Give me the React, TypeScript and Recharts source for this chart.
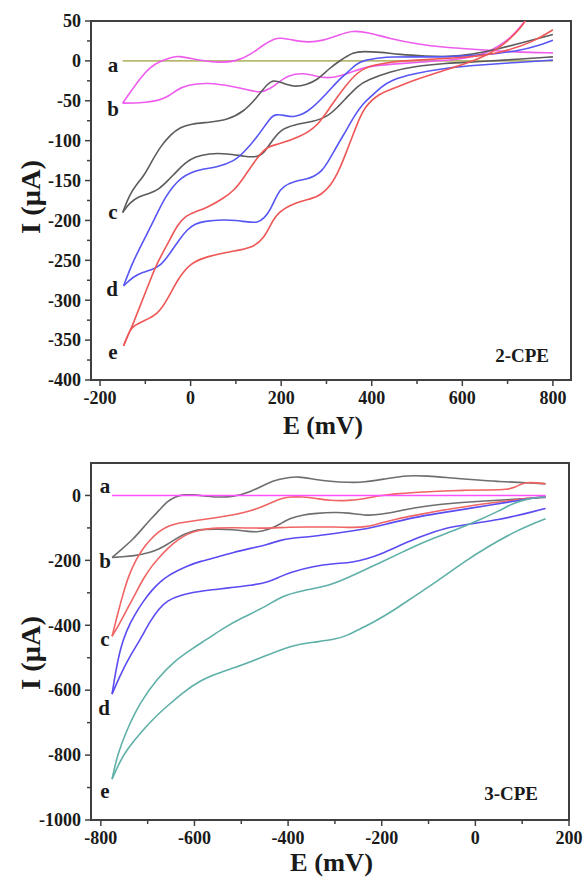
import { LineChart, Line, XAxis, YAxis, ReferenceArea } from "recharts";

// ---- 2-CPE (top panel), E in mV, I in μA ----
const cpe2A = [[-150, 0], [800, 0]];
const cpe2BUp = [
  [-150, -53], [-128, -35], [-110, -21], [-90, -8], [-66, 0], [-40, 5], [-25, 6], [0, 3], [30, 0],
  [60, -2], [100, -1], [133, 8], [160, 20], [185, 28], [200, 29], [225, 26], [260, 23], [290, 25],
  [330, 33], [358, 38], [390, 36], [440, 28], [500, 21], [560, 17], [640, 14], [720, 11], [800, 10],
];
const cpe2BLow = [
  [-150, -53], [-126, -53], [-100, -52], [-73, -50], [-50, -45], [-30, -36], [-7, -30], [37, -27],
  [95, -32], [130, -37], [155, -40], [175, -35], [192, -28], [214, -18], [250, -15], [275, -19],
  [302, -22], [330, -19], [360, -13], [390, -7], [442, -4], [520, -1], [600, 2], [650, 9], [680, 18],
  [707, 29], [729, 43], [745, 55], [760, 72],
];
const cpe2CUp = [
  [-150, -190], [-135, -168], [-120, -155], [-104, -145], [-85, -125], [-66, -107], [-44, -92],
  [-22, -83], [0, -79], [40, -77], [81, -74], [117, -64], [148, -45], [170, -28], [184, -24],
  [200, -27], [228, -33], [255, -30], [280, -24], [305, -10], [331, 1], [360, 11], [380, 12],
  [420, 11], [460, 8], [520, 6], [570, 5], [620, 8], [680, 15], [740, 24], [800, 33],
];
const cpe2CLow = [
  [-150, -190], [-135, -178], [-115, -170], [-90, -166], [-70, -161], [-50, -150], [-30, -138],
  [-10, -127], [10, -120], [40, -116], [81, -116], [120, -120], [150, -121], [165, -113],
  [180, -100], [199, -86], [228, -80], [272, -76], [302, -70], [325, -58], [346, -45], [370, -31],
  [390, -24], [442, -13], [493, -7], [560, -3], [641, -1], [720, 2], [800, 5],
];
const cpe2DUp = [
  [-148, -282], [-130, -255], [-110, -232], [-90, -210], [-73, -190], [-55, -170], [-38, -157],
  [-22, -147], [0, -140], [22, -136], [60, -133], [95, -126], [117, -115], [148, -95], [177, -70],
  [188, -67], [205, -68], [228, -71], [250, -66], [265, -61], [302, -40], [330, -22], [346, -15],
  [365, -4], [383, 1], [420, 4], [442, 5], [500, 5], [570, 5], [640, 7], [722, 12], [773, 20], [800, 26],
];
const cpe2DLow = [
  [-148, -282], [-126, -270], [-105, -265], [-88, -262], [-66, -257], [-44, -240], [-25, -224],
  [-7, -211], [10, -204], [29, -201], [73, -199], [100, -200], [126, -202], [148, -203], [163, -197],
  [177, -186], [192, -166], [205, -157], [228, -151], [258, -148], [272, -145], [290, -138],
  [302, -128], [320, -110], [331, -99], [346, -85], [360, -70], [383, -52], [398, -45], [420, -33],
  [442, -24], [493, -16], [560, -9], [641, -5], [720, -2], [800, 1],
];
const cpe2EUp = [
  [-148, -357], [-135, -340], [-126, -328], [-110, -305], [-90, -276], [-73, -252], [-51, -230],
  [-29, -205], [-10, -194], [10, -189], [37, -184], [73, -172], [95, -163], [117, -147], [148, -120],
  [170, -107], [192, -105], [243, -95], [280, -82], [309, -57], [346, -28], [370, -14], [390, -7],
  [442, -1], [500, 1], [560, 3], [620, 5], [685, 10], [758, 24], [800, 39],
];
const cpe2ELow = [
  [-148, -357], [-135, -338], [-126, -332], [-104, -326], [-73, -318], [-51, -299], [-29, -274],
  [0, -253], [37, -245], [88, -239], [139, -234], [162, -222], [177, -205], [192, -190], [228, -178],
  [272, -172], [287, -168], [309, -157], [330, -135], [346, -111], [366, -82], [383, -57], [420, -40],
  [442, -36], [493, -24], [560, -12], [610, -3], [650, 6], [680, 16], [707, 28], [729, 42], [745, 54],
  [760, 72],
];

// ---- 3-CPE (bottom panel) ----
const cpe3A = [[-776, 0], [150, 0]];
const cpe3BUp = [
  [-776, -191], [-755, -165], [-731, -135], [-710, -100], [-694, -74], [-675, -45], [-658, -18],
  [-640, -3], [-624, 3], [-600, 2], [-588, 0], [-551, -6], [-517, -4], [-481, 10], [-444, 38],
  [-420, 50], [-395, 56], [-380, 58], [-345, 50], [-310, 43], [-270, 40], [-239, 40], [-190, 52],
  [-145, 62], [-100, 60], [-60, 55], [0, 48], [47, 43], [96, 40], [120, 38], [150, 36],
];
const cpe3BLow = [
  [-776, -191], [-755, -189], [-731, -187], [-694, -176], [-675, -165], [-658, -151], [-640, -134],
  [-624, -120], [-600, -108], [-588, -105], [-550, -104], [-517, -105], [-490, -110], [-466, -114],
  [-440, -105], [-417, -88], [-395, -70], [-370, -60], [-340, -55], [-300, -52], [-274, -53],
  [-231, -63], [-200, -58], [-167, -49], [-130, -38], [-96, -31], [-50, -24], [11, -18], [81, -12],
  [150, -6],
];
const cpe3CUp = [
  [-776, -434], [-765, -370], [-752, -300], [-740, -245], [-725, -198], [-710, -163], [-694, -135],
  [-675, -110], [-658, -95], [-640, -87], [-624, -83], [-590, -76], [-551, -68], [-517, -60],
  [-481, -49], [-444, -28], [-417, -10], [-395, -4], [-370, -4], [-340, -9], [-310, -16], [-270, -16],
  [-239, -11], [-203, 0], [-170, 5], [-132, 9], [-80, 13], [-26, 16], [30, 17], [68, 18], [85, 25],
  [100, 37], [111, 40], [130, 39], [150, 36],
];
const cpe3CLow = [
  [-776, -434], [-760, -395], [-744, -351], [-725, -300], [-709, -255], [-690, -215], [-673, -187],
  [-655, -160], [-637, -138], [-615, -118], [-588, -105], [-550, -100], [-517, -99], [-466, -101],
  [-430, -100], [-400, -98], [-346, -97], [-300, -97], [-260, -99], [-231, -97], [-203, -85],
  [-167, -72], [-132, -62], [-80, -48], [-26, -35], [30, -24], [81, -14], [118, -8], [150, -4],
];
const cpe3DUp = [
  [-776, -612], [-768, -540], [-758, -470], [-745, -415], [-728, -368], [-709, -325], [-690, -290],
  [-673, -265], [-655, -246], [-637, -232], [-615, -217], [-588, -203], [-550, -190], [-517, -175],
  [-480, -163], [-444, -151], [-417, -138], [-395, -132], [-346, -126], [-300, -117], [-239, -105],
  [-190, -88], [-132, -68], [-80, -55], [-26, -43], [30, -30], [81, -18], [118, -9], [150, -3],
];
const cpe3DLow = [
  [-776, -612], [-760, -558], [-740, -500], [-716, -445], [-694, -385], [-675, -348], [-658, -324],
  [-630, -306], [-588, -295], [-550, -289], [-517, -283], [-480, -277], [-444, -268], [-417, -250],
  [-395, -237], [-346, -218], [-300, -210], [-261, -206], [-230, -195], [-203, -181], [-167, -158],
  [-132, -135], [-96, -116], [-60, -99], [-20, -90], [11, -83], [50, -74], [81, -65], [118, -52],
  [150, -40],
];
const cpe3EUp = [
  [-776, -874], [-765, -800], [-744, -720], [-716, -637], [-680, -566], [-645, -512], [-603, -470],
  [-573, -443], [-540, -410], [-500, -378], [-444, -340], [-417, -312], [-370, -293], [-310, -278],
  [-260, -245], [-203, -207], [-150, -170], [-96, -135], [-40, -105], [11, -74], [50, -48], [81, -24],
  [110, -10], [150, -4],
];
const cpe3ELow = [
  [-776, -874], [-760, -822], [-744, -782], [-709, -720], [-680, -677], [-658, -649], [-624, -606],
  [-588, -570], [-551, -548], [-502, -525], [-444, -492], [-395, -463], [-346, -452], [-300, -444],
  [-274, -432], [-245, -410], [-218, -391], [-175, -355], [-132, -312], [-80, -263], [-26, -206],
  [30, -155], [81, -114], [118, -90], [150, -72],
];

// ticks
const cpe2XMajor = [-200, 0, 200, 400, 600, 800];
const cpe2XMinor = [-100, 100, 300, 500, 700];
const cpe2YMajor = [-400, -350, -300, -250, -200, -150, -100, -50, 0, 50];
const cpe2YMinor = [-375, -325, -275, -225, -175, -125, -75, -25, 25];
const cpe3XMajor = [-800, -600, -400, -200, 0, 200];
const cpe3XMinor = [-700, -500, -300, -100, 100];
const cpe3YMajor = [-1000, -800, -600, -400, -200, 0];
const cpe3YMinor = [-900, -700, -500, -300, -100];

const AXIS = "#404040";
const FONT = "'Liberation Serif', 'Times New Roman', serif";

const pts = (arr: number[][]) => arr.map(([e, i]) => ({ e, i }));

const cpe2Series = [
  { name: "a", data: cpe2A, color: "#b8b870" },
  { name: "bUp", data: cpe2BUp, color: "#ee5cee" },
  { name: "bLow", data: cpe2BLow, color: "#ee5cee" },
  { name: "cUp", data: cpe2CUp, color: "#5c5c5c" },
  { name: "cLow", data: cpe2CLow, color: "#5c5c5c" },
  { name: "dUp", data: cpe2DUp, color: "#5656f4" },
  { name: "dLow", data: cpe2DLow, color: "#5656f4" },
  { name: "eUp", data: cpe2EUp, color: "#ef5656" },
  { name: "eLow", data: cpe2ELow, color: "#ef5656" },
];
const cpe3Series = [
  { name: "bUp", data: cpe3BUp, color: "#6e6e6e" },
  { name: "bLow", data: cpe3BLow, color: "#6e6e6e" },
  { name: "cUp", data: cpe3CUp, color: "#f06464" },
  { name: "cLow", data: cpe3CLow, color: "#f06464" },
  { name: "dUp", data: cpe3DUp, color: "#5a4cf2" },
  { name: "dLow", data: cpe3DLow, color: "#5a4cf2" },
  { name: "eUp", data: cpe3EUp, color: "#5fb0a8" },
  { name: "eLow", data: cpe3ELow, color: "#5fb0a8" },
  { name: "a", data: cpe3A, color: "#ff50ff" },
];

function makeXTick(majors: number[]) {
  return (props: any) => {
    const { x, y, payload } = props;
    const major = majors.includes(payload.value);
    return (
      <g>
        <line x1={x} x2={x} y1={y} y2={y + (major ? 6 : 4)} stroke={AXIS} strokeWidth={1.5} />
        {major && (
          <text x={x} y={y + 24} textAnchor="middle" fontFamily={FONT} fontWeight="bold" fontSize={18} fill="#1a1a1a">
            {String(payload.value)}
          </text>
        )}
      </g>
    );
  };
}

function makeYTick(majors: number[]) {
  return (props: any) => {
    const { x, y, payload } = props;
    const major = majors.includes(payload.value);
    return (
      <g>
        <line x1={x} x2={x - (major ? 6 : 4)} y1={y} y2={y} stroke={AXIS} strokeWidth={1.5} />
        {major && (
          <text x={x - 10} y={y} dy="0.35em" textAnchor="end" fontFamily={FONT} fontWeight="bold" fontSize={18} fill="#1a1a1a">
            {String(payload.value)}
          </text>
        )}
      </g>
    );
  };
}

function Panel({ series, xDomain, yDomain, xMajor, xMinor, yMajor, yMinor, height, margin, xHeight }: any) {
  return (
    <LineChart width={584} height={height} margin={margin}>
      <XAxis
        type="number"
        dataKey="e"
        domain={xDomain}
        ticks={[...xMajor, ...xMinor].sort((a, b) => a - b)}
        allowDataOverflow
        axisLine={false}
        tickLine={false}
        tickSize={0}
        tickMargin={0}
        height={xHeight}
        interval={0}
        tick={makeXTick(xMajor)}
      />
      <YAxis
        type="number"
        domain={yDomain}
        ticks={[...yMajor, ...yMinor].sort((a, b) => a - b)}
        allowDataOverflow
        axisLine={false}
        tickLine={false}
        tickSize={0}
        tickMargin={0}
        width={91}
        interval={0}
        tick={makeYTick(yMajor)}
      />
      {series.map((s: any) => (
        <Line
          key={s.name}
          data={pts(s.data)}
          dataKey="i"
          type="basis"
          stroke={s.color}
          strokeWidth={1.6}
          dot={false}
          activeDot={false}
          isAnimationActive={false}
        />
      ))}
      <ReferenceArea
        x1={xDomain[0]}
        x2={xDomain[1]}
        y1={yDomain[0]}
        y2={yDomain[1]}
        fill="none"
        fillOpacity={0}
        stroke={AXIS}
        strokeWidth={2}
      />
    </LineChart>
  );
}

const txt = { fontFamily: FONT, fontWeight: "bold" as const, fill: "#1a1a1a" };

export default function App() {
  return (
    <div style={{ position: "absolute", left: 0, top: 0, width: 584, height: 879, background: "#fff" }}>
      <div style={{ position: "absolute", left: 0, top: 0 }}>
        <Panel
          series={cpe2Series}
          xDomain={[-220, 840]}
          yDomain={[-400, 50]}
          xMajor={cpe2XMajor}
          xMinor={cpe2XMinor}
          yMajor={cpe2YMajor}
          yMinor={cpe2YMinor}
          height={440}
          xHeight={60}
          margin={{ top: 21, right: 13, bottom: 0, left: 0 }}
        />
      </div>
      <div style={{ position: "absolute", left: 0, top: 440 }}>
        <Panel
          series={cpe3Series}
          xDomain={[-821, 200]}
          yDomain={[-1000, 100]}
          xMajor={cpe3XMajor}
          xMinor={cpe3XMinor}
          yMajor={cpe3YMajor}
          yMinor={cpe3YMinor}
          height={439}
          xHeight={59}
          margin={{ top: 23, right: 15, bottom: 0, left: 0 }}
        />
      </div>
      <svg width={584} height={879} style={{ position: "absolute", left: 0, top: 0, pointerEvents: "none" }}>
        {/* top panel */}
        <text x={283} y={434} fontSize={25} textLength={80} lengthAdjust="spacingAndGlyphs" {...txt}>E (mV)</text>
        <text transform="translate(40,197) rotate(-90)" textAnchor="middle" fontSize={28} textLength={74} lengthAdjust="spacingAndGlyphs" {...txt}>I (μA)</text>
        <text x={549} y={362} textAnchor="end" fontSize={19} {...txt}>2-CPE</text>
        <text x={113} y={72} textAnchor="middle" fontSize={21} {...txt}>a</text>
        <text x={113} y={116} textAnchor="middle" fontSize={21} {...txt}>b</text>
        <text x={113} y={219} textAnchor="middle" fontSize={21} {...txt}>c</text>
        <text x={112} y={296} textAnchor="middle" fontSize={21} {...txt}>d</text>
        <text x={113} y={359} textAnchor="middle" fontSize={21} {...txt}>e</text>
        {/* bottom panel */}
        <text x={290} y={871} fontSize={25} textLength={83} lengthAdjust="spacingAndGlyphs" {...txt}>E (mV)</text>
        <text transform="translate(40,653) rotate(-90)" textAnchor="middle" fontSize={28} textLength={74} lengthAdjust="spacingAndGlyphs" {...txt}>I (μA)</text>
        <text x={538} y={800} textAnchor="end" fontSize={19} {...txt}>3-CPE</text>
        <text x={105} y={493} textAnchor="middle" fontSize={21} {...txt}>a</text>
        <text x={105} y={568} textAnchor="middle" fontSize={21} {...txt}>b</text>
        <text x={105} y={646} textAnchor="middle" fontSize={21} {...txt}>c</text>
        <text x={104} y={715} textAnchor="middle" fontSize={21} {...txt}>d</text>
        <text x={105} y={798} textAnchor="middle" fontSize={21} {...txt}>e</text>
      </svg>
    </div>
  );
}
